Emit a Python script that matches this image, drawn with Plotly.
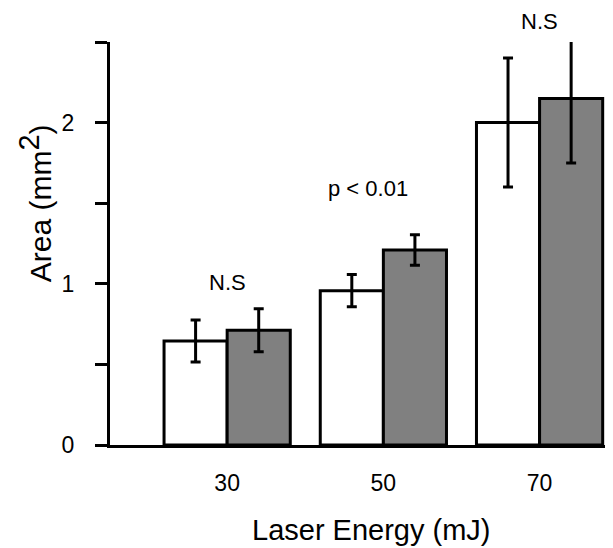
import plotly.graph_objects as go

categories = ["30", "50", "70"]
xpos = [0, 1, 2]
white_vals = [0.645, 0.957, 2.0]
white_err = [0.13, 0.10, 0.40]
gray_vals = [0.712, 1.21, 2.15]
gray_err = [0.133, 0.095, 0.40]
annot_text = ["N.S", "p < 0.01", "N.S"]
annot_x = [0.0, 0.9, 2.0]
annot_y = [1.01, 1.59, 2.63]
y_max = 2.5

W = 0.404
fig = go.Figure()
fig.add_trace(go.Bar(
    x=xpos, y=white_vals, width=W, offset=-W,
    marker=dict(color="white", line=dict(color="black", width=3)),
    error_y=dict(type="data", array=white_err, color="black", thickness=3, width=5),
    showlegend=False))
fig.add_trace(go.Bar(
    x=xpos, y=gray_vals, width=W, offset=0,
    marker=dict(color="#808080", line=dict(color="black", width=3)),
    error_y=dict(type="data", array=gray_err, color="black", thickness=3, width=5),
    showlegend=False))

font = "Liberation Sans, Arial, Helvetica, sans-serif"
for t, x, y in zip(annot_text, annot_x, annot_y):
    fig.add_annotation(x=x, xref="x", y=y / y_max, yref="y domain", text=t, showarrow=False,
                       xanchor="center", yanchor="middle",
                       font=dict(family=font, size=22, color="black"))

fig.add_annotation(xref="paper", yref="paper", x=0.519, y=-0.211, text="Laser Energy (mJ)",
                   xanchor="center", yanchor="middle",
                   showarrow=False, font=dict(family=font, size=29, color="black"))
fig.add_annotation(xref="paper", yref="paper", x=-0.149, y=0.600,
                   text="Area (mm<sup><span style='font-size:29px'>2</span></sup>)",
                   xanchor="center", yanchor="middle",
                   textangle=-90, showarrow=False, font=dict(family=font, size=30, color="black"))

fig.update_layout(
    width=605, height=540,
    margin=dict(l=102, r=0, t=34, b=103),
    plot_bgcolor="white", paper_bgcolor="white",
    font=dict(family=font, size=23, color="black"),
    barmode="overlay",
    xaxis=dict(range=[-0.75, 2.47], tickvals=xpos, ticktext=categories,
               showline=True, linecolor="black", linewidth=3, ticks="",
               showgrid=False, zeroline=False, ticklabelstandoff=15),
    yaxis=dict(range=[0, y_max], tickvals=[0, 1, 2], showline=True, linecolor="black",
               linewidth=3, ticks="outside", ticklen=12, tickwidth=3, tickcolor="black",
               showgrid=False, zeroline=False, ticklabelstandoff=16,
               minor=dict(dtick=0.5, ticks="outside", ticklen=12, tickwidth=3, tickcolor="black",
                          showgrid=False)),
)
fig.write_html("out.html")
